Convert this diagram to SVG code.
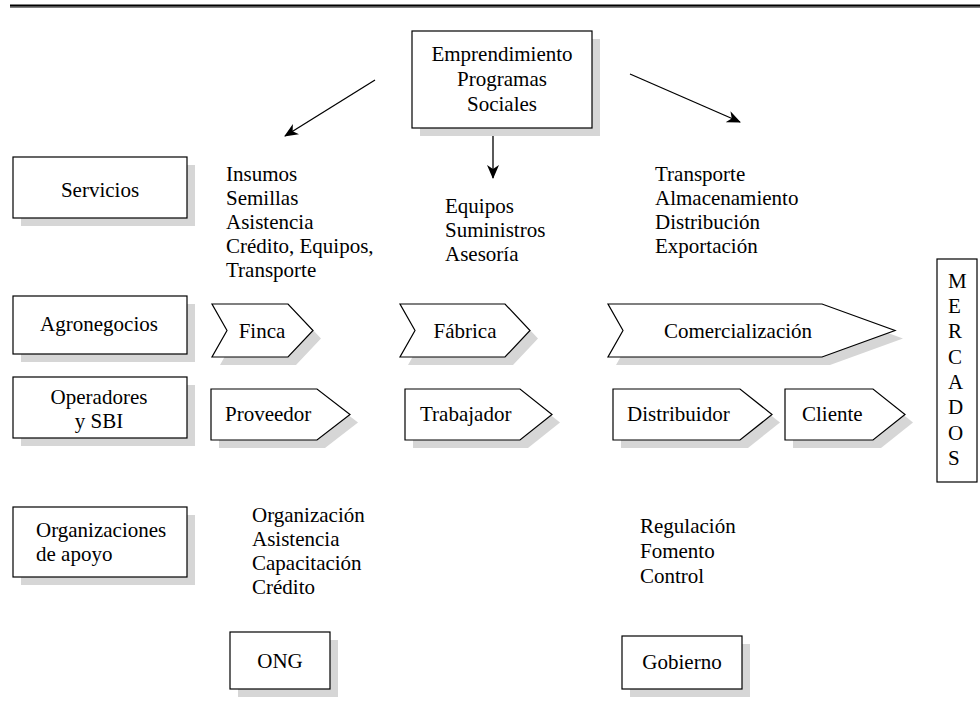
<svg xmlns="http://www.w3.org/2000/svg" width="980" height="714" viewBox="0 0 980 714">
<style>
.box{fill:#fff;stroke:#000;stroke-width:1.2}
.sh{fill:#d6d6d6}
text{font-family:"Liberation Serif","Times New Roman",serif;font-size:21px;fill:#000}
.c{text-anchor:middle}
.ln{stroke:#000;stroke-width:1.3;fill:none}
</style>
<defs>
<marker id="ah" markerUnits="userSpaceOnUse" markerWidth="14" markerHeight="12" refX="13" refY="6" orient="auto">
<path d="M0,0 L14,6 L0,12 L4,6 z" fill="#000"/>
</marker>
</defs>
<rect width="980" height="714" fill="#fff"/>
<line x1="10" y1="6" x2="980" y2="6" stroke="#000" stroke-width="3"/>
<line x1="10" y1="6.5" x2="980" y2="6.5" stroke="#666" stroke-width="0.8"/>

<g id="connectors">
<line class="ln" x1="375" y1="80" x2="285" y2="136" marker-end="url(#ah)"/>
<line class="ln" x1="493" y1="136" x2="493" y2="178" marker-end="url(#ah)"/>
<line class="ln" x1="630" y1="74" x2="740" y2="122" marker-end="url(#ah)"/>
</g>

<g id="emprendimiento">
<rect class="sh" x="420" y="39" width="180" height="97"/>
<rect class="box" x="412" y="31" width="180" height="97"/>
<text class="c" x="502" y="61">Emprendimiento</text>
<text class="c" x="502" y="86">Programas</text>
<text class="c" x="502" y="111">Sociales</text>
</g>

<g id="servicios">
<rect class="sh" x="21" y="165" width="174" height="61"/>
<rect class="box" x="13" y="157" width="174" height="61"/>
<text class="c" x="100" y="197">Servicios</text>
</g>

<g id="servicios-finca">
<text x="226" y="181">Insumos</text>
<text x="226" y="205">Semillas</text>
<text x="226" y="229">Asistencia</text>
<text x="226" y="253">Crédito, Equipos,</text>
<text x="226" y="277">Transporte</text>
</g>
<g id="servicios-fabrica">
<text x="445" y="213">Equipos</text>
<text x="445" y="237">Suministros</text>
<text x="445" y="261">Asesoría</text>
</g>
<g id="servicios-comercializacion">
<text x="655" y="181">Transporte</text>
<text x="655" y="205">Almacenamiento</text>
<text x="655" y="229">Distribución</text>
<text x="655" y="253">Exportación</text>
</g>

<g id="agronegocios">
<rect class="sh" x="21" y="304" width="174" height="58"/>
<rect class="box" x="13" y="296" width="174" height="58"/>
<text class="c" x="99" y="331">Agronegocios</text>
</g>

<g id="finca">
<polygon class="sh" points="220,312 296,312 321,338.5 296,365 220,365 235,338.5"/>
<polygon class="box" points="212,304 288,304 313,330.5 288,357 212,357 227,330.5"/>
<text class="c" x="262" y="338">Finca</text>
</g>
<g id="fabrica">
<polygon class="sh" points="408,312 513,312 538,338.5 513,365 408,365 423,338.5"/>
<polygon class="box" points="400,304 505,304 530,330.5 505,357 400,357 415,330.5"/>
<text class="c" x="465" y="338">Fábrica</text>
</g>
<g id="comercializacion">
<polygon class="sh" points="616,312 830,312 903,338.5 830,365 616,365 631,338.5"/>
<polygon class="box" points="608,304 822,304 895,330.5 822,357 608,357 623,330.5"/>
<text class="c" x="738" y="338">Comercialización</text>
</g>

<g id="operadores">
<rect class="sh" x="21" y="385" width="174" height="61"/>
<rect class="box" x="13" y="377" width="174" height="61"/>
<text class="c" x="99" y="404">Operadores</text>
<text class="c" x="99" y="428">y SBI</text>
</g>

<g id="proveedor">
<polygon class="sh" points="219,397 325,397 358,422.5 325,448 219,448"/>
<polygon class="box" points="211,389 317,389 350,414.5 317,440 211,440"/>
<text x="225" y="421">Proveedor</text>
</g>
<g id="trabajador">
<polygon class="sh" points="413,397 528,397 560,422.5 528,448 413,448"/>
<polygon class="box" points="405,389 520,389 552,414.5 520,440 405,440"/>
<text x="420" y="421">Trabajador</text>
</g>
<g id="distribuidor">
<polygon class="sh" points="621,397 748,397 780,422.5 748,448 621,448"/>
<polygon class="box" points="613,389 740,389 772,414.5 740,440 613,440"/>
<text x="627" y="421">Distribuidor</text>
</g>
<g id="cliente">
<polygon class="sh" points="793,397 881,397 913,422.5 881,448 793,448"/>
<polygon class="box" points="785,389 873,389 905,414.5 873,440 785,440"/>
<text x="802" y="421">Cliente</text>
</g>

<g id="mercados">
<rect class="box" x="937" y="259" width="40" height="223"/>
<text x="948" y="288">M</text>
<text x="948" y="313">E</text>
<text x="948" y="338">R</text>
<text x="948" y="364">C</text>
<text x="948" y="389">A</text>
<text x="948" y="414">D</text>
<text x="948" y="440">O</text>
<text x="948" y="465">S</text>
</g>

<g id="organizaciones">
<rect class="sh" x="21" y="515" width="174" height="70"/>
<rect class="box" x="13" y="507" width="174" height="70"/>
<text x="36" y="537">Organizaciones</text>
<text x="36" y="561">de apoyo</text>
</g>

<g id="apoyo-ong">
<text x="252" y="522">Organización</text>
<text x="252" y="546">Asistencia</text>
<text x="252" y="570">Capacitación</text>
<text x="252" y="594">Crédito</text>
</g>
<g id="apoyo-gobierno">
<text x="640" y="533">Regulación</text>
<text x="640" y="558">Fomento</text>
<text x="640" y="583">Control</text>
</g>

<g id="ong">
<rect class="sh" x="238" y="640" width="100" height="57"/>
<rect class="box" x="230" y="632" width="100" height="57"/>
<text class="c" x="280" y="668">ONG</text>
</g>
<g id="gobierno">
<rect class="sh" x="630" y="644" width="120" height="53"/>
<rect class="box" x="622" y="636" width="120" height="53"/>
<text class="c" x="682" y="669">Gobierno</text>
</g>
</svg>
